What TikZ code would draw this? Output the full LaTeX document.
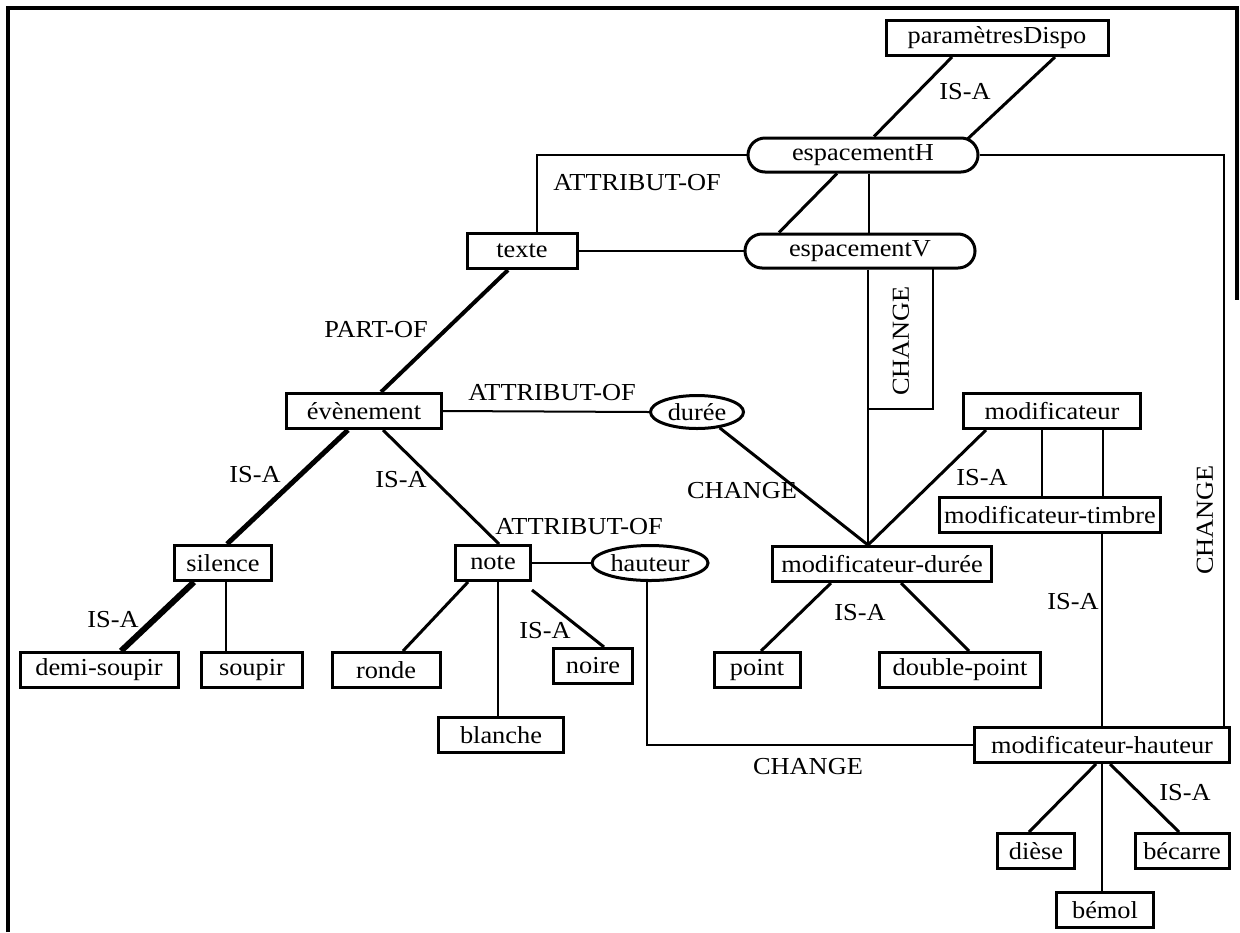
\documentclass[tikz,border=0pt]{standalone}
\usepackage{fontspec}
\setmainfont{Liberation Serif}[FakeStretch=1.08]
\usepackage{tikz}
\usetikzlibrary{shapes.geometric, shapes.misc}

\begin{document}
\begin{tikzpicture}[x=0.5pt, y=-0.5pt,
        every node/.style={font=\fontsize{12.2}{14}\selectfont},
        box/.style={draw, line width=1.5pt, rectangle, minimum height=17.5pt, inner sep=0pt},
        oval/.style={draw, line width=1.5pt, ellipse, inner sep=0pt},
        pill/.style={draw, line width=1.5pt, rounded rectangle, minimum width=115pt, minimum height=17pt, inner sep=0pt},
        link/.style={line width=1.5pt},
        thinlink/.style={line width=1pt},
        heavylink/.style={line width=2.5pt},
        lbl/.style={inner sep=0pt}]
        \useasboundingbox (0,0) rectangle (1240,932);

        % Frame
        \draw[line width=2pt] (8,932) -- (8,8) -- (1237,8) -- (1237,300);

        % Concepts
        \node[box, minimum width=111pt] (para) at (997,38) {paramètresDispo};
        \node[pill] (espH) at (863,155) {espacementH};
        \node[pill] (espV) at (860,251) {espacementV};
        \node[box, minimum width=55pt] (texte) at (522,251) {texte};
        \node[box, minimum width=77.5pt] (even) at (364,411) {évènement};
        \node[oval, minimum width=46.5pt, minimum height=16.5pt] (duree) at (697,412) {durée};
        \node[box, minimum width=88.5pt] (modif) at (1052,411) {modificateur};
        \node[box, minimum width=110.5pt] (modtimbre) at (1050,515) {modificateur-timbre};
        \node[box, minimum width=48.5pt] (silence) at (223,563) {silence};
        \node[box, minimum width=37.5pt] (note) at (493,563) {note};
        \node[oval, minimum width=58pt, minimum height=17.5pt] (hauteur) at (650,563) {hauteur};
        \node[box, minimum width=109.5pt] (moddur) at (882,564) {modificateur-durée};
        \node[box, minimum width=79pt] (demi) at (99,670) {demi-soupir};
        \node[box, minimum width=50.5pt] (soupir) at (252,670) {soupir};
        \node[box, minimum width=54pt] (ronde) at (386,670) {ronde};
        \node[box, minimum width=39.5pt] (noire) at (593,666) {noire};
        \node[box, minimum width=62.5pt] (blanche) at (501,735) {blanche};
        \node[box, minimum width=43pt] (point) at (757,670) {point};
        \node[box, minimum width=80.5pt] (dpoint) at (960,670) {double-point};
        \node[box, minimum width=127.5pt] (modhaut) at (1102,745) {modificateur-hauteur};
        \node[box, minimum width=38.5pt] (diese) at (1036,851) {dièse};
        \node[box, minimum width=47pt] (becarre) at (1182,851) {bécarre};
        \node[box, minimum width=48.5pt] (bemol) at (1105,910) {bémol};

        % Top part
        \draw[link] ([xshift=-22.5pt]para.south) -- ([xshift=5.5pt]espH.north);
        \draw[link] ([xshift=29pt]para.south) -- ([xshift=52pt,yshift=-1.5pt]espH.north);
        \node[lbl] (isa1) at (965,92) {IS-A};
        \draw[link] ([xshift=-13pt]espH.south) -- ([xshift=-40.5pt]espV.north);
        \draw[thinlink] ([xshift=3pt]espH.south) -- ([xshift=3pt]espH.south |- espV.north);
        \draw[thinlink] ([xshift=7.5pt]texte.north) |- (espH.west);
        \draw[thinlink] (texte.east) -- (espV.west);
        \node[lbl] (attr1) at (637,183) {ATTRIBUT-OF};
        \draw[thinlink] (espH.east) -| ([xshift=61pt]modhaut.north);
        \node[lbl, rotate=90] (chg4) at (1205,520) {CHANGE};

        % espacementV to modificateur-durée
        \coordinate (mdtop) at ([xshift=-7pt]moddur.north);
        \draw[thinlink] ([xshift=4pt]espV.south) -- (mdtop);
        \node[lbl, rotate=90] (chg1) at (901,341) {CHANGE};
        \draw[thinlink] (868,409) -| (933,268);

        % évènement
        \draw[line width=2pt] ([xshift=-7pt]texte.south) -- ([xshift=8.5pt]even.north);
        \node[lbl] (partof) at (376,330) {PART-OF};
        \draw[thinlink] (even.east) -- (duree.west);
        \node[lbl] (attr2) at (552,393) {ATTRIBUT-OF};
        \draw[link] (duree.-35) -- (mdtop);
        \node[lbl] (chg2) at (742,491) {CHANGE};
        \draw[link] ([xshift=-33pt]modif.south) -- (mdtop);
        \node[lbl] (isa2) at (982,478) {IS-A};
        \draw[thinlink] ([xshift=-5pt]modif.south) -- ([xshift=-5pt]modif.south |- modtimbre.north);
        \draw[thinlink] ([xshift=25.5pt]modif.south) -- ([xshift=25.5pt]modif.south |- modtimbre.north);
        \draw[thinlink] (modhaut.north |- modtimbre.south) -- (modhaut.north);
        \node[lbl] (isa3) at (1073,602) {IS-A};

        % silence and note
        \draw[heavylink] ([xshift=-8pt]even.south) -- ([xshift=2pt]silence.north);
        \node[lbl] (isa4) at (255,475) {IS-A};
        \draw[link] ([xshift=9.5pt]even.south) -- ([xshift=3pt]note.north);
        \node[lbl] (isa5) at (401,480) {IS-A};
        \draw[thinlink] (note.east) -- (hauteur.west);
        \node[lbl] (attr3) at (579,527) {ATTRIBUT-OF};
        \draw[line width=3pt] ([xshift=-14.5pt]silence.south) -- ([xshift=11pt]demi.north);
        \node[lbl] (isa6) at (113,620) {IS-A};
        \draw[thinlink] ([xshift=1.5pt]silence.south) -- ([xshift=1.5pt]silence.south |- soupir.north);
        \draw[link] ([xshift=-12.5pt]note.south) -- ([xshift=8.5pt]ronde.north);
        \draw[thinlink] ([xshift=2.5pt]note.south) -- ([xshift=2.5pt]note.south |- blanche.north);
        \draw[link] ([yshift=-4pt]note.south east) -- ([xshift=5.5pt]noire.north);
        \node[lbl] (isa7) at (545,631) {IS-A};
        \draw[thinlink] ([xshift=-1.5pt]hauteur.south) |- (modhaut.west);
        \node[lbl] (chg3) at (808,767) {CHANGE};

        % modificateur-durée and modificateur-hauteur
        \draw[link] ([xshift=-25.5pt]moddur.south) -- ([xshift=2pt]point.north);
        \draw[link] ([xshift=9.5pt]moddur.south) -- ([xshift=4.5pt]dpoint.north);
        \node[lbl] (isa8) at (860,613) {IS-A};
        \draw[link] ([xshift=-3pt]modhaut.south) -- ([xshift=-3.5pt]diese.north);
        \draw[link] ([xshift=4pt]modhaut.south) -- ([xshift=-1.5pt]becarre.north);
        \draw[thinlink] (modhaut.south) -- (modhaut.south |- bemol.north);
        \node[lbl] (isa9) at (1185,793) {IS-A};
    \end{tikzpicture}
\end{document}
